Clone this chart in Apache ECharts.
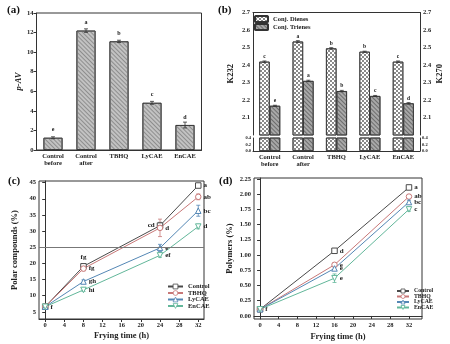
<!DOCTYPE html>
<html>
<head>
<meta charset="utf-8">
<script src="https://cdn.jsdelivr.net/npm/echarts@6/dist/echarts.min.js"></script>
<style>
html, body { margin: 0; padding: 0; background: #fff; }
#main { width: 450px; height: 344px; }
</style>
</head>
<body>
<div id="main"></div>
<script>
// (a) p-AV
var samples = ['Control\nbefore', 'Control\nafter', 'TBHQ', 'LyCAE', 'EnCAE'];
var pav = [1.25, 12.2, 11.1, 4.82, 2.55];
var pavErr = [0.1, 0.18, 0.12, 0.15, 0.3];
var pavLetters = ['e', 'a', 'b', 'c', 'd'];

// (b) K232 / K270
var dienes = [2.419, 2.534, 2.495, 2.476, 2.419];
var dienesErr = [0.004, 0.005, 0.004, 0.003, 0.004];
var dienesLetters = ['c', 'a', 'b', 'b', 'c'];
var trienes = [2.167, 2.309, 2.251, 2.223, 2.181];
var trienesErr = [0.003, 0.004, 0.004, 0.003, 0.004];
var trienesLetters = ['e', 'a', 'b', 'c', 'd'];
var kTicks = [2.1, 2.2, 2.3, 2.4, 2.5, 2.6, 2.7];

// (c) polar compounds
var hoursC = [0, 8, 24, 32];
var polarControl = [6.6, 19.1, 31.7, 44.1];
var polarTBHQ = [6.6, 18.4, 31.0, 40.6];
var polarLyCAE = [6.6, 14.4, 24.8, 36.3];
var polarEnCAE = [6.6, 11.8, 22.5, 31.4];
var polarErrControl = [0.3, 0.6, 1.0, 0.6];
var polarErrTBHQ = [0.3, 0.7, 2.7, 0.9];
var polarErrLyCAE = [0.3, 0.5, 1.1, 1.7];
var polarErrEnCAE = [0.3, 0.5, 0.6, 0.7];
var polarLetControl = ['f', 'fg', 'cd', 'a'];
var polarLetTBHQ = ['', 'fg', 'd', 'ab'];
var polarLetLyCAE = ['', 'gh', 'e', 'bc'];
var polarLetEnCAE = ['', 'hi', 'ef', 'd'];
var polarTicks = [5, 10, 15, 20, 25, 30, 35, 40, 45];
var hourTicks = [0, 4, 8, 12, 16, 20, 24, 28, 32];
var polarLimit = 25;

// (d) polymers
var hoursD = [0, 16, 32];
var polyControl = [0.11, 1.07, 2.11];
var polyTBHQ = [0.11, 0.84, 1.96];
var polyLyCAE = [0.11, 0.78, 1.87];
var polyEnCAE = [0.11, 0.62, 1.75];
var polyErrControl = [0.01, 0.02, 0.02];
var polyErrTBHQ = [0.01, 0.03, 0.03];
var polyErrLyCAE = [0.01, 0.03, 0.03];
var polyErrEnCAE = [0.01, 0.07, 0.03];
var polyLetControl = ['f', 'd', 'a'];
var polyLetTBHQ = ['', 'e', 'ab'];
var polyLetLyCAE = ['', 'e', 'bc'];
var polyLetEnCAE = ['', 'e', 'c'];
var polyTicks = [0, 0.25, 0.5, 0.75, 1, 1.25, 1.5, 1.75, 2, 2.25];

var groups = ['Control', 'TBHQ', 'LyCAE', 'EnCAE'];

var FONT = 'Liberation Serif';
var INK = '#222';
var COLORS = { Control: '#4a4a4a', TBHQ: '#c87878', LyCAE: '#5487b5', EnCAE: '#62b79a' };
var SYMBOLS = { Control: 'rect', TBHQ: 'circle', LyCAE: 'triangle', EnCAE: 'triangle' };
var ROTATE = { Control: 0, TBHQ: 0, LyCAE: 0, EnCAE: 180 };

var chart = echarts.init(document.getElementById('main'), null, { renderer: 'canvas' });

function tickLabel(size) {
    return { fontSize: size || 6.5, fontWeight: 'bold', color: INK, fontFamily: FONT, margin: 3 };
}

// error bar drawn through the axis scale
function errorBars(color, dx) {
    return function (params, api) {
        var x = api.value(0), y = api.value(1), e = api.value(2);
        var hi = api.coord([x, y + e]);
        var lo = api.coord([x, y - e]);
        var cx = hi[0] + (dx || 0);
        var st = { stroke: color, lineWidth: 0.8 };
        return {
            type: 'group',
            children: [
                { type: 'line', shape: { x1: cx, y1: hi[1], x2: cx, y2: lo[1] }, style: st },
                { type: 'line', shape: { x1: cx - 2, y1: hi[1], x2: cx + 2, y2: hi[1] }, style: st },
                { type: 'line', shape: { x1: cx - 2, y1: lo[1], x2: cx + 2, y2: lo[1] }, style: st }
            ]
        };
    };
}

function errData(xs, ys, es) {
    return ys.map(function (v, i) { return [xs ? xs[i] : i, v, es[i]]; });
}

function letterLabel(letters, size, dist) {
    return {
        show: true, position: 'top', distance: dist, fontSize: size, fontWeight: 'bold',
        color: INK, fontFamily: FONT,
        formatter: function (p) { return letters[p.dataIndex]; }
    };
}

var hatch = { symbol: 'rect', symbolSize: 1, dashArrayX: [1, 0], dashArrayY: [0.9, 1.9], rotation: Math.PI / 4, color: '#8e8e8e' };
var darkHatch = { symbol: 'rect', symbolSize: 1, dashArrayX: [1, 0], dashArrayY: [1, 1.8], rotation: Math.PI / 4, color: '#6c6c6c' };
var checker = { symbol: 'rect', symbolSize: 1, dashArrayX: [[1.5, 1.5], [0, 1.5, 1.5, 0]], dashArrayY: [1.5, 0], color: '#8a8a8a' };

// line series + error bars for (c)/(d)
function lineSeries(name, xi, yi, xs, ys, es, letters, positions) {
    var c = COLORS[name];
    return [{
        name: name, type: 'line', xAxisIndex: xi, yAxisIndex: yi,
        data: ys.map(function (v, i) {
            return { value: [xs[i], v], label: { position: positions[i] } };
        }),
        symbol: SYMBOLS[name], symbolRotate: ROTATE[name], symbolSize: 5.5, z: 3,
        lineStyle: { color: c, width: 1 },
        itemStyle: { color: '#fff', borderColor: c, borderWidth: 1 },
        label: {
            show: true, distance: 2, fontSize: 7, fontWeight: 'bold', color: INK, fontFamily: FONT,
            formatter: function (p) { return letters[p.dataIndex]; }
        }
    }, {
        type: 'custom', xAxisIndex: xi, yAxisIndex: yi, z: 2,
        renderItem: errorBars(c, 0), data: errData(xs, ys, es), silent: true
    }];
}

var frame = { show: true, borderColor: '#333', borderWidth: 1 };

var series = [
    // (a)
    {
        type: 'bar', xAxisIndex: 0, yAxisIndex: 0, data: pav, barWidth: 19,
        itemStyle: { color: '#c2c2c2', borderColor: '#333', borderWidth: 0.8, decal: hatch },
        label: letterLabel(pavLetters, 6, 5)
    },
    { type: 'custom', xAxisIndex: 0, yAxisIndex: 0, renderItem: errorBars('#333', 0), data: errData(null, pav, pavErr), z: 5 },
    // (b) upper
    {
        name: 'Conj. Dienes', type: 'bar', xAxisIndex: 1, yAxisIndex: 1, data: dienes, barWidth: 10.5, barGap: '0%', clip: true,
        itemStyle: { color: '#fff', borderColor: '#333', borderWidth: 0.8, decal: checker },
        label: letterLabel(dienesLetters, 5.5, 2)
    },
    {
        name: 'Conj. Trienes', type: 'bar', xAxisIndex: 1, yAxisIndex: 2, data: trienes, barWidth: 10.5, barGap: '0%', clip: true,
        itemStyle: { color: '#a8a8a8', borderColor: '#333', borderWidth: 0.8, decal: darkHatch },
        label: letterLabel(trienesLetters, 5.5, 2)
    },
    { type: 'custom', xAxisIndex: 1, yAxisIndex: 1, renderItem: errorBars('#333', -5.25), data: errData(null, dienes, dienesErr), z: 5 },
    { type: 'custom', xAxisIndex: 1, yAxisIndex: 2, renderItem: errorBars('#333', 5.25), data: errData(null, trienes, trienesErr), z: 5 },
    // (b) lower, same values clipped by the 0-0.4 segment
    {
        name: 'Conj. Dienes', type: 'bar', xAxisIndex: 2, yAxisIndex: 3, data: dienes, barWidth: 10.5, barGap: '0%', clip: true,
        itemStyle: { color: '#fff', borderColor: '#333', borderWidth: 0.8, decal: checker }
    },
    {
        name: 'Conj. Trienes', type: 'bar', xAxisIndex: 2, yAxisIndex: 4, data: trienes, barWidth: 10.5, barGap: '0%', clip: true,
        itemStyle: { color: '#a8a8a8', borderColor: '#333', borderWidth: 0.8, decal: darkHatch }
    }
];

var cLines = []
    .concat(lineSeries('Control', 3, 5, hoursC, polarControl, polarErrControl, polarLetControl, ['right', 'top', 'left', 'right']))
    .concat(lineSeries('TBHQ', 3, 5, hoursC, polarTBHQ, polarErrTBHQ, polarLetTBHQ, ['right', 'right', 'right', 'right']))
    .concat(lineSeries('LyCAE', 3, 5, hoursC, polarLyCAE, polarErrLyCAE, polarLetLyCAE, ['right', 'right', 'right', 'right']))
    .concat(lineSeries('EnCAE', 3, 5, hoursC, polarEnCAE, polarErrEnCAE, polarLetEnCAE, ['right', 'right', 'right', 'right']));
// 25 % limit line
cLines[0].markLine = {
    silent: true, symbol: 'none', label: { show: false },
    lineStyle: { color: '#777', width: 1, type: 'solid' },
    data: [{ yAxis: polarLimit }]
};

var dLines = []
    .concat(lineSeries('Control', 4, 6, hoursD, polyControl, polyErrControl, polyLetControl, ['right', 'right', 'right']))
    .concat(lineSeries('TBHQ', 4, 6, hoursD, polyTBHQ, polyErrTBHQ, polyLetTBHQ, ['right', 'right', 'right']))
    .concat(lineSeries('LyCAE', 4, 6, hoursD, polyLyCAE, polyErrLyCAE, polyLetLyCAE, ['right', 'right', 'right']))
    .concat(lineSeries('EnCAE', 4, 6, hoursD, polyEnCAE, polyErrEnCAE, polyLetEnCAE, ['right', 'right', 'right']));

series = series.concat(cLines, dLines);

var panelTitle = function (t, x, y) {
    return { text: t, left: x, top: y, textStyle: { fontSize: 11, fontWeight: 'bold', fontFamily: FONT, color: '#111' } };
};
var nameStyle = { fontSize: 8.5, fontWeight: 'bold', color: INK, fontFamily: FONT };
var legendText = { fontSize: 6.5, fontWeight: 'bold', color: INK, fontFamily: FONT };
// hollow legend markers
var lineLegendData = groups.map(function (g) {
    return { name: g, itemStyle: { color: '#fff', borderColor: COLORS[g], borderWidth: 0.8 } };
});

var option = {
    backgroundColor: '#fff',
    animation: false,
    textStyle: { fontFamily: FONT },
    title: [panelTitle('(a)', 2, 0), panelTitle('(b)', 213, 0), panelTitle('(c)', 3, 171), panelTitle('(d)', 214, 171)],
    legend: [
        {
            data: ['Conj. Dienes', 'Conj. Trienes'], orient: 'vertical', left: 254, top: 15,
            itemWidth: 13, itemHeight: 6, itemGap: 0, textStyle: legendText, padding: 0
        },
        {
            data: lineLegendData, orient: 'vertical', left: 167, top: 283,
            itemWidth: 15, itemHeight: 6, itemGap: -0.5, textStyle: legendText, padding: 0
        },
        {
            data: lineLegendData, orient: 'vertical', left: 396, top: 288,
            itemWidth: 12, itemHeight: 5, itemGap: -0.5, padding: 0,
            textStyle: { fontSize: 5.8, fontWeight: 'bold', color: INK, fontFamily: FONT }
        }
    ],
    grid: [
        Object.assign({ left: 36.5, top: 13, width: 165, height: 137 }, frame),
        { left: 253, top: 12.5, width: 167, height: 122.5 },
        { left: 253, top: 138, width: 167, height: 13 },
        Object.assign({ left: 39, top: 181, width: 165, height: 138 }, frame),
        Object.assign({ left: 254, top: 178, width: 168, height: 141 }, frame)
    ],
    xAxis: [
        {
            type: 'category', gridIndex: 0, data: samples,
            axisLine: { lineStyle: { color: '#333' } }, axisTick: { show: false },
            axisLabel: Object.assign(tickLabel(6.5), { interval: 0, lineHeight: 7 })
        },
        {
            type: 'category', gridIndex: 1, data: samples, position: 'top',
            axisLine: { lineStyle: { color: '#333' } }, axisTick: { show: false }, axisLabel: { show: false }
        },
        {
            type: 'category', gridIndex: 2, data: samples,
            axisLine: { lineStyle: { color: '#333' } }, axisTick: { show: false },
            axisLabel: Object.assign(tickLabel(6.5), { interval: 0, lineHeight: 7 })
        },
        {
            type: 'value', gridIndex: 3, min: -1.3, max: 33.2, splitLine: { show: false },
            name: 'Frying time (h)', nameLocation: 'middle', nameGap: 12, nameTextStyle: nameStyle,
            axisLine: { lineStyle: { color: '#333' } },
            axisTick: { customValues: hourTicks, length: 3, lineStyle: { color: '#333' } },
            axisLabel: Object.assign(tickLabel(6.5), { customValues: hourTicks })
        },
        {
            type: 'value', gridIndex: 4, min: -1.3, max: 34.8, splitLine: { show: false },
            name: 'Frying time (h)', nameLocation: 'middle', nameGap: 13, nameTextStyle: nameStyle,
            axisLine: { lineStyle: { color: '#333' } },
            axisTick: { customValues: hourTicks, length: 3, lineStyle: { color: '#333' } },
            axisLabel: Object.assign(tickLabel(6.5), { customValues: hourTicks })
        }
    ],
    yAxis: [
        {
            type: 'value', gridIndex: 0, min: 0, max: 14, interval: 2, splitLine: { show: false },
            name: 'p-AV', nameLocation: 'middle', nameGap: 12,
            nameTextStyle: Object.assign({}, nameStyle, { fontStyle: 'italic' }),
            axisLine: { show: true, lineStyle: { color: '#333' } },
            axisTick: { show: true, length: 3, lineStyle: { color: '#333' } },
            axisLabel: tickLabel(6.5)
        },
        {
            type: 'value', gridIndex: 1, min: 2.0, max: 2.7, interval: 0.1, splitLine: { show: false },
            name: 'K232', nameLocation: 'middle', nameGap: 18, nameTextStyle: nameStyle,
            axisLine: { show: true, lineStyle: { color: '#333' } },
            axisTick: { customValues: kTicks, length: 3, lineStyle: { color: '#333' } },
            axisLabel: Object.assign(tickLabel(6.5), { customValues: kTicks, formatter: function (v) { return v.toFixed(1); } })
        },
        {
            type: 'value', gridIndex: 1, min: 2.0, max: 2.7, interval: 0.1, position: 'right', splitLine: { show: false },
            name: 'K270', nameLocation: 'middle', nameGap: 15, nameRotate: 90, nameTextStyle: nameStyle,
            axisLine: { show: true, lineStyle: { color: '#333' } },
            axisTick: { customValues: kTicks, length: 3, lineStyle: { color: '#333' } },
            axisLabel: Object.assign(tickLabel(6.5), { customValues: kTicks, formatter: function (v) { return v.toFixed(1); } })
        },
        {
            type: 'value', gridIndex: 2, min: 0, max: 0.4, interval: 0.2, splitLine: { show: false },
            axisLine: { show: true, lineStyle: { color: '#333' } },
            axisTick: { length: 2, lineStyle: { color: '#333' } },
            axisLabel: Object.assign(tickLabel(4.5), { margin: 2, formatter: function (v) { return v.toFixed(1); } })
        },
        {
            type: 'value', gridIndex: 2, min: 0, max: 0.4, interval: 0.2, position: 'right', splitLine: { show: false },
            axisLine: { show: true, lineStyle: { color: '#333' } },
            axisTick: { length: 2, lineStyle: { color: '#333' } },
            axisLabel: Object.assign(tickLabel(4.5), { margin: 2, formatter: function (v) { return v.toFixed(1); } })
        },
        {
            type: 'value', gridIndex: 3, min: 2.8, max: 45.5, splitLine: { show: false },
            name: 'Polar compounds (%)', nameLocation: 'middle', nameGap: 20, nameTextStyle: nameStyle,
            axisLine: { show: true, lineStyle: { color: '#333' } },
            axisTick: { customValues: polarTicks, length: 3, lineStyle: { color: '#333' } },
            axisLabel: Object.assign(tickLabel(6.5), { customValues: polarTicks })
        },
        {
            type: 'value', gridIndex: 4, min: -0.05, max: 2.265, splitLine: { show: false },
            name: 'Polymers (%)', nameLocation: 'middle', nameGap: 20, nameTextStyle: nameStyle,
            axisLine: { show: true, lineStyle: { color: '#333' } },
            axisTick: { customValues: polyTicks, length: 3, lineStyle: { color: '#333' } },
            axisLabel: Object.assign(tickLabel(6.5), { customValues: polyTicks, formatter: function (v) { return v.toFixed(2); } })
        }
    ],
    series: series
};

chart.setOption(option);
</script>
</body>
</html>
